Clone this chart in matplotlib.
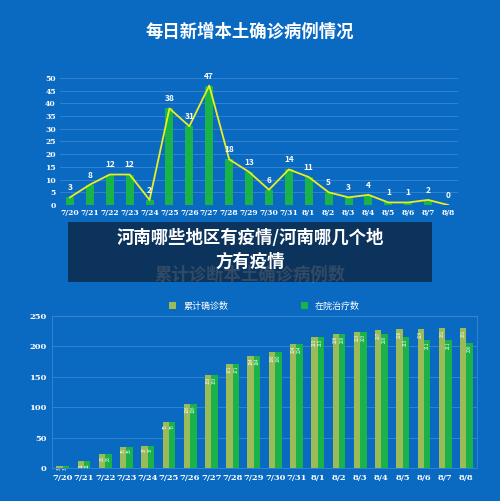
import matplotlib
matplotlib.use("Agg")
import matplotlib.pyplot as plt
import numpy as np
from matplotlib.patches import Rectangle

plt.rcParams['font.family'] = ['Noto Sans CJK SC', 'DejaVu Sans']

dates = ["7/20", "7/21", "7/22", "7/23", "7/24", "7/25", "7/26", "7/27", "7/28", "7/29",
         "7/30", "7/31", "8/1", "8/2", "8/3", "8/4", "8/5", "8/6", "8/7", "8/8"]
daily = [3, 8, 12, 12, 2, 38, 31, 47, 18, 13, 6, 14, 11, 5, 3, 4, 1, 1, 2, 0]
cumulative = [3, 11, 23, 35, 37, 75, 106, 153, 171, 184, 190, 204, 215, 220, 223, 227, 228, 229, 231, 231]
hospital = [3, 11, 23, 35, 37, 75, 106, 153, 171, 184, 190, 204, 215, 220, 223, 220, 215, 211, 211, 206]

BG = "#0a6ac2"
GRID = "#3a86d0"
W, H = 500, 501
fig = plt.figure(figsize=(W / 100, H / 100), dpi=100, facecolor=BG)
x = np.arange(len(dates))

def box(l, t, r, b):
    return [l / W, 1 - b / H, (r - l) / W, (b - t) / H]

fig.text(0.5, 1 - 32 / H, "每日新增本土确诊病例情况", color="white", fontsize=12.5,
         fontweight="bold", ha="center", va="center")

ax1 = fig.add_axes(box(60, 78, 458, 205))
ax1.set_facecolor(BG)
ax1.bar(x, daily, width=0.4, color="#19b34a")
ax1.plot(x, daily, color="#e6f020", lw=1.3)
for i, v in enumerate(daily):
    ax1.text(i, v + 2, str(v), color="white", fontsize=6, fontweight="bold", ha="center", va="bottom")
ax1.set_ylim(0, 50)
ax1.set_yticks(range(0, 51, 5))
ax1.set_xlim(-0.5, len(dates) - 0.5)
ax1.set_xticks(x)
ax1.set_xticklabels(dates)
ax1.tick_params(colors="white", labelsize=5.5, length=0, pad=3)
for lab in ax1.get_xticklabels() + ax1.get_yticklabels():
    lab.set_fontweight("bold")
    lab.set_family("DejaVu Serif")
ax1.grid(axis="y", color=GRID, lw=0.6)
ax1.set_axisbelow(True)
for s in ax1.spines.values():
    s.set_visible(False)

fig.text(0.5, 1 - 275 / H, "累计诊断本土确诊病例数", color="white", fontsize=12.5,
         fontweight="bold", ha="center", va="center")

ax2 = fig.add_axes(box(52, 316, 477, 468))
ax2.set_facecolor(BG)
w = 0.3
b1 = ax2.bar(x - w / 2, cumulative, width=w, color="#9bbb59", label="累计确诊数")
b2 = ax2.bar(x + w / 2, hospital, width=w, color="#19b34a", label="在院治疗数")
for i in range(len(dates)):
    ax2.text(i - w / 2, cumulative[i] - 3, str(cumulative[i]), color="white", fontsize=3.2,
             rotation=90, ha="center", va="top")
    ax2.text(i + w / 2, hospital[i] - 3, str(hospital[i]), color="white", fontsize=3.2,
             rotation=90, ha="center", va="top")
ax2.set_ylim(0, 250)
ax2.set_yticks(range(0, 251, 50))
ax2.set_xlim(-0.5, len(dates) - 0.5)
ax2.set_xticks(x)
ax2.set_xticklabels(dates)
ax2.tick_params(colors="white", labelsize=6, length=0, pad=4)
for lab in ax2.get_xticklabels() + ax2.get_yticklabels():
    lab.set_fontweight("bold")
    lab.set_family("DejaVu Serif")
ax2.grid(axis="y", color=GRID, lw=0.6)
ax2.set_axisbelow(True)
for s in ax2.spines.values():
    s.set_color(GRID)
    s.set_linewidth(0.6)
ax2.legend(loc="lower center", bbox_to_anchor=(0.5, 1.0), ncol=2, frameon=False,
           labelcolor="white", fontsize=6.5, handlelength=0.8, handleheight=0.8,
           columnspacing=8, borderaxespad=0.2)

# dark banner overlay
fig.patches.append(Rectangle((68 / W, 1 - 282 / H), (432 - 68) / W, (282 - 222) / H,
                             transform=fig.transFigure, facecolor="#0d2a4a", alpha=0.85, zorder=5))
fig.text(0.5, 1 - 238 / H, "河南哪些地区有疫情/河南哪几个地", color="white", fontsize=12.5,
         fontweight="bold", ha="center", va="center", zorder=6)
fig.text(0.5, 1 - 262 / H, "方有疫情", color="white", fontsize=12.5,
         fontweight="bold", ha="center", va="center", zorder=6)

fig.savefig("out.png", dpi=100, facecolor=BG)
